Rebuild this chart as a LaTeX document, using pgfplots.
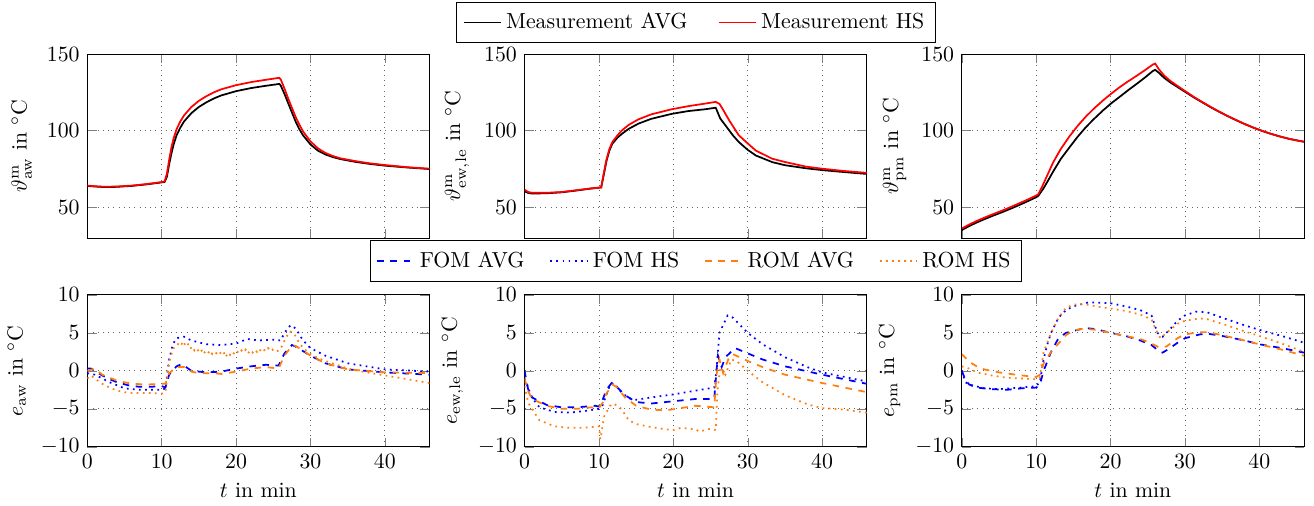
\documentclass[border=0pt]{standalone}
\usepackage{pgfplots}
\pgfplotsset{compat=1.18}
\usepgfplotslibrary{groupplots}

\definecolor{romorange}{RGB}{255,127,14}

\pgfplotsset{
  every axis/.append style={
    scale only axis,
    width=157pt,
    xmin=0, xmax=46,
    xtick={0,10,...,40},
    grid=major,
    major grid style={dotted,gray!80!black},
    every axis plot/.append style={thick},
  },
  toprow/.style={height=84.4pt, ymin=30, ymax=150, ytick={50,100,150}, xticklabels={}},
  botrow/.style={height=69.7pt, ymin=-10, ymax=10, ytick={-10,-5,...,10}, xlabel={$t$ in min}},
  fomavg/.style={blue,dashed},
  fomhs/.style={blue,dotted},
  romavg/.style={romorange,dashed},
  romhs/.style={romorange,dotted},
}

\begin{document}
\begin{tikzpicture}
\begin{groupplot}[
  group style={group size=3 by 2, horizontal sep=43.6pt, vertical sep=26.1pt},
]
% ---- top row: measurements
\nextgroupplot[toprow, ylabel={$\vartheta^{\mathrm{m}}_{\mathrm{aw}}$ in $^\circ$C}]
\addplot[black] coordinates {(0,64) (1,63.6) (2,63.3) (3,63.2) (4,63.4) (6,64.0) (8,65.0) (10,66.3) (10.4,66.6) (10.7,70) (11,78) (11.3,85) (11.6,91) (12,97) (12.5,102) (13,106) (14,111.5) (15,115.5) (16,118.5) (17,121) (18,123) (20,125.8) (22,127.8) (24,129.3) (25.8,130.5) (26,129.5) (26.5,124) (27,118) (27.5,112) (28,106) (28.5,101) (29,97) (30,91) (31,87) (32,84.5) (33,82.8) (34,81.5) (36,79.7) (38,78.3) (40,77.2) (43,76) (46,75)};
\addplot[red] coordinates {(0,64.2) (1,63.8) (2,63.5) (3,63.5) (4,63.6) (6,64.2) (8,65.2) (10,66.5) (10.4,67) (10.7,72) (11,81) (11.3,89) (11.6,95) (12,101) (12.5,106) (13,110) (14,115.5) (15,119.5) (16,122.5) (17,125) (18,127) (20,129.7) (22,131.7) (24,133.2) (25.8,134.5) (26,133.5) (26.5,127.5) (27,121) (27.5,115) (28,109) (28.5,104) (29,99.5) (30,93) (31,88.5) (32,85.5) (33,83.5) (34,82) (36,80.2) (38,78.7) (40,77.6) (43,76.2) (46,75.2)};

\nextgroupplot[toprow, ylabel={$\vartheta^{\mathrm{m}}_{\mathrm{ew,le}}$ in $^\circ$C},
  legend style={at={(0.5,1)}, anchor=south, yshift=5pt, inner ysep=3pt, legend columns=-1,
    /tikz/column 2/.style={column sep=12pt}}]
\addplot[black] coordinates {(0,60.5) (0.5,59.4) (1,59) (3,59.2) (5,59.8) (7,61) (9,62.3) (10.3,63) (10.6,70) (11,80) (11.4,87) (11.8,91.5) (12.5,95.5) (13.1,98) (14,101.2) (15.3,104.6) (17,107.7) (19.8,111) (22,112.8) (24.3,114) (25.7,115) (26,111.5) (26.3,108) (27,103.5) (28,97) (28.8,92.6) (30,87.5) (31.1,83.8) (33.3,79.5) (35,77.5) (37.8,75.5) (40,74.3) (43,73) (46,71.8)};
\addlegendentry{Measurement AVG}
\addplot[red] coordinates {(0,61.5) (0.5,60) (1,59.5) (3,59.5) (5,60) (7,61.2) (9,62.4) (10.3,63) (10.6,71) (11,81) (11.4,88) (11.8,92.6) (12.5,97) (13.1,100.2) (14,103.8) (15.3,107.4) (17,110.6) (19.8,114) (22,116) (24.3,117.7) (25.7,118.8) (26.2,117.5) (26.6,114.4) (27.5,106.8) (28.8,97) (30,91.7) (31.1,87) (33.3,81.7) (35,79.6) (37.8,76.6) (40,75.2) (43,73.7) (46,72.5)};
\addlegendentry{Measurement HS}

\nextgroupplot[toprow, ylabel={$\vartheta^{\mathrm{m}}_{\mathrm{pm}}$ in $^\circ$C}]
\addplot[black] coordinates {(0,35.2) (1,37.8) (2,40.1) (3,42.2) (4,44.2) (5.5,47) (7,50) (8.5,53.2) (10,56.6) (10.3,57.6) (11,62.5) (11.6,67.5) (12.3,73.5) (13.3,81.5) (14.5,89.3) (15.6,96.2) (16.7,102.4) (17.8,107.8) (19,113.3) (20.1,117.9) (21.2,122) (22.3,126.2) (23.5,130.5) (24.6,134.6) (25.7,139) (26,139.7) (26.5,137.7) (27.2,134.5) (28,131.6) (29,128.5) (30,125.4) (31.2,121.7) (32.4,118.3) (33.5,115.2) (34.5,112.6) (35.7,109.6) (36.9,106.8) (38,104.4) (39.2,102) (40.3,100) (41.4,98.2) (42.7,96.3) (44,94.7) (45,93.7) (46,92.8)};
\addplot[red] coordinates {(0,36.2) (1,38.8) (2,41.1) (3,43.2) (4,45.2) (5.5,48) (7,51.1) (8.5,54.3) (10,57.7) (10.3,58.7) (10.8,63.5) (11.5,71) (12.3,79.5) (13.3,88) (14.5,96.5) (15.6,103.3) (16.7,109.3) (17.8,114.6) (19,119.8) (20.1,124.2) (21.2,128.3) (22.3,132) (23.5,135.8) (24.6,139.4) (25.7,143.2) (26,143.8) (26.5,140) (27.2,136) (28,132.6) (29,129.2) (30,125.9) (31.2,122) (32.4,118.5) (33.5,115.4) (34.5,112.7) (35.7,109.7) (36.9,106.9) (38,104.4) (39.2,102) (40.3,100) (41.4,98.2) (42.7,96.3) (44,94.7) (45,93.7) (46,92.8)};

% ---- bottom row: errors
\nextgroupplot[botrow, ylabel={$e_{\mathrm{aw}}$ in $^\circ$C}]
\addplot[fomavg] coordinates {(0,0.3) (0.5,0.3) (1,0) (2,-0.6) (3,-1.1) (4,-1.5) (5.5,-1.9) (7,-2.1) (8.5,-2.1) (10,-2.0) (10.5,-2.2) (11,-0.5) (12,0.6) (12.7,0.9) (14,0.0) (16,-0.2) (18,-0.1) (20,0.3) (22,0.6) (24,0.8) (25.7,0.7) (26.5,2.3) (27.5,3.4) (28,3.2) (30,2.0) (32,1.0) (35,0.2) (40,-0.2) (46,-0.5)};
\addplot[fomhs] coordinates {(0,-0.3) (1,-0.5) (3,-1.5) (5,-2.3) (7,-2.5) (10,-2.5) (10.5,-2.3) (11,1.5) (11.5,3.5) (12,4.3) (13,4.5) (14,4.0) (16,3.5) (18,3.4) (20,3.6) (21.5,4.2) (23,4.0) (25,4.1) (26,4.0) (26.5,5.0) (27.3,6.0) (28,5.6) (29,4.0) (30,3.0) (32,2.0) (35,1.0) (40,0.2) (46,-0.1)};
\addplot[romavg] coordinates {(0,0) (1,0.3) (2,-0.5) (4,-1.3) (6,-1.7) (8,-1.8) (10,-1.7) (10.5,-1.7) (11,-0.3) (12,0.5) (13,0.5) (14,-0.1) (15,-0.3) (17,-0.3) (18,-0.4) (20,-0.1) (22,0.3) (24,0.5) (25.7,0.3) (26.5,2.0) (27.5,3.3) (28,3.3) (30,2.0) (32,1.0) (35,0.2) (40,-0.2) (46,-0.3)};
\addplot[romhs] coordinates {(0,-1.0) (0.5,-0.6) (1,-1.0) (2,-1.7) (3,-2.2) (4,-2.6) (5,-2.8) (6,-2.9) (8,-2.9) (10,-3.0) (10.5,-2.8) (10.8,-0.5) (11,1.0) (11.3,2.2) (11.6,3.0) (12,3.2) (12.3,3.7) (12.6,3.4) (12.9,3.9) (13.2,3.3) (13.5,3.6) (13.8,2.9) (14.1,3.2) (14.4,2.7) (14.7,3.0) (15,2.5) (15.3,2.8) (15.6,2.2) (15.9,2.6) (16.2,2.3) (16.5,2.7) (16.8,2.2) (17.1,2.5) (17.4,2.3) (17.7,2.6) (18,2.2) (18.3,2.5) (18.6,1.8) (18.9,2.4) (19.2,2.1) (19.5,2.5) (19.8,2.2) (20.1,2.6) (20.4,2.3) (20.7,2.7) (21,2.4) (21.3,2.8) (21.6,2.3) (21.9,2.7) (22.2,2.4) (22.5,2.8) (22.8,2.5) (23.1,2.9) (23.4,2.5) (23.7,2.8) (24,2.6) (24.3,3.0) (24.6,2.6) (24.9,2.8) (25.2,2.5) (25.5,2.6) (25.8,2.7) (26.2,3.3) (26.6,4.2) (27.2,5.2) (27.8,4.9) (28.3,4.0) (29,3.0) (30,2.2) (31,1.7) (32,1.3) (33.5,0.8) (35,0.3) (37,-0.1) (40,-0.6) (43,-1.1) (46,-1.6)};

\nextgroupplot[botrow, ylabel={$e_{\mathrm{ew,le}}$ in $^\circ$C},
  legend style={at={(0.5,1)}, anchor=south, yshift=6pt, inner ysep=3pt, legend columns=-1,
    /tikz/column 2/.style={column sep=9.5pt},
    /tikz/column 4/.style={column sep=9.5pt},
    /tikz/column 6/.style={column sep=9.5pt}}]
\addplot[fomavg] coordinates {(0,0) (0.5,-2.5) (1,-3.5) (3,-4.5) (5,-4.8) (7,-4.8) (9.5,-4.6) (10,-4.7) (10.5,-3.8) (11,-2.5) (11.7,-1.6) (12.5,-2.2) (13.5,-3.2) (15,-4.1) (17,-4.3) (19,-4.1) (21,-3.9) (23,-3.7) (25.5,-3.7) (25.8,0) (26,2.0) (26.5,0.5) (27,1.8) (28.3,3.0) (30,2.3) (32,1.5) (35,0.6) (40,-0.5) (46,-1.7)};
\addlegendentry{FOM AVG}
\addplot[fomhs] coordinates {(0,-1) (1,-3.5) (2,-4.8) (4,-5.4) (6,-5.5) (8,-5.3) (10,-5.0) (10.5,-4.5) (11.5,-1.8) (12,-1.6) (13,-2.8) (14,-3.6) (15,-3.8) (17,-3.5) (20,-3.1) (23,-2.6) (25.5,-2.2) (25.8,0) (26.2,5.0) (27.3,7.3) (28,7.0) (29,6.0) (30,5.0) (32,3.5) (35,1.8) (38,0.5) (40,-0.2) (46,-1.4)};
\addlegendentry{FOM HS}
\addplot[romavg] coordinates {(0,-1) (0.5,-2.7) (1,-3.7) (3,-4.6) (5,-5.0) (7,-5.0) (9,-4.8) (10,-4.9) (10.5,-4.2) (11,-3.0) (11.8,-1.8) (12.5,-2.2) (13.5,-3.5) (15,-4.6) (17,-5.1) (19,-5.2) (21,-4.9) (23,-4.6) (25.5,-4.8) (25.8,-0.5) (26.2,1.5) (26.7,-0.3) (27.5,1.8) (28,2.2) (30,1.3) (32,0.5) (35,-0.5) (40,-1.6) (46,-2.8)};
\addlegendentry{ROM AVG}
\addplot[romhs] coordinates {(0,-2) (0.5,-4.2) (1,-5.0) (2,-6.5) (4,-7.3) (6,-7.5) (8,-7.5) (10,-7.3) (10.2,-9.0) (10.7,-6.0) (11.5,-4.6) (12,-4.3) (13,-5.0) (14,-6.5) (15,-7.0) (17,-7.4) (19,-7.7) (20,-7.8) (21,-7.5) (23,-7.7) (23.5,-8.0) (25,-7.6) (25.7,-7.8) (25.9,-3) (26.3,0.5) (27,-0.5) (27.8,1.5) (28.5,1.3) (30,0) (32,-1.5) (35,-3.2) (38,-4.4) (40,-4.9) (43,-5.1) (46,-5.5)};
\addlegendentry{ROM HS}

\nextgroupplot[botrow, ylabel={$e_{\mathrm{pm}}$ in $^\circ$C}]
\addplot[fomavg] coordinates {(0,0) (0.5,-1.2) (1,-1.8) (2,-2.2) (4,-2.4) (6,-2.5) (8,-2.3) (10,-2.2) (10.5,-1.8) (11,0) (12,2.5) (13,4.3) (14,5.0) (16,5.5) (17,5.6) (18,5.5) (20,5.0) (22,4.6) (24,4.0) (25.5,3.4) (26.5,2.6) (27,2.4) (28,3.0) (29,3.7) (30,4.3) (32,4.8) (33,4.9) (35,4.6) (38,4.0) (40,3.5) (43,3.0) (46,2.4)};
\addplot[fomhs] coordinates {(0,0) (0.5,-1.5) (1,-1.8) (3,-2.3) (5,-2.4) (8,-2.2) (10,-2.0) (10.5,-1.5) (11,1.5) (11.5,3.5) (12,5.0) (13,7.0) (14,8.0) (15,8.5) (17,9.0) (18,9.0) (20,8.9) (22,8.5) (24,8.0) (25.5,7.3) (26.3,5.0) (27,4.5) (28,5.5) (29,6.6) (30,7.3) (31.5,7.8) (33,7.7) (35,7.0) (38,6.0) (40,5.4) (43,4.6) (46,3.7)};
\addplot[romavg] coordinates {(0,2.2) (1,1.2) (2,0.6) (3,0.2) (5,-0.2) (8,-0.6) (10,-0.8) (10.5,-0.5) (11,1.0) (12,2.5) (13,3.6) (14,4.7) (15,5.3) (16,5.5) (17,5.5) (18,5.4) (20,5.0) (22,4.6) (24,4.2) (25.5,3.6) (26.5,3.1) (27.5,3.2) (29,4.3) (30,4.8) (32,5.1) (33,5.1) (35,4.7) (38,4.0) (40,3.5) (43,2.8) (46,2.0)};
\addplot[romhs] coordinates {(0,0.6) (1,0.3) (2,-0.2) (4,-0.6) (6,-0.9) (8,-1.0) (10,-1.1) (10.5,-0.8) (11,2.5) (12,5.0) (13,7.0) (14,8.3) (15,8.7) (16,8.8) (17,8.7) (18,8.5) (20,8.2) (22,7.9) (24,7.4) (25.5,6.8) (26,5.6) (26.7,4.3) (27.5,5.0) (29,6.2) (30,6.6) (32,6.9) (33,6.8) (35,6.2) (38,5.2) (40,4.6) (43,3.6) (46,2.5)};
\end{groupplot}
% white room round the plots, as in the original
\path ([xshift=4.6pt]group c3r1.east) ;
\path ([yshift=24.8pt]group c2r1.north) ;
\path ([yshift=-27pt]group c1r2.south) ;
\end{tikzpicture}
\end{document}
